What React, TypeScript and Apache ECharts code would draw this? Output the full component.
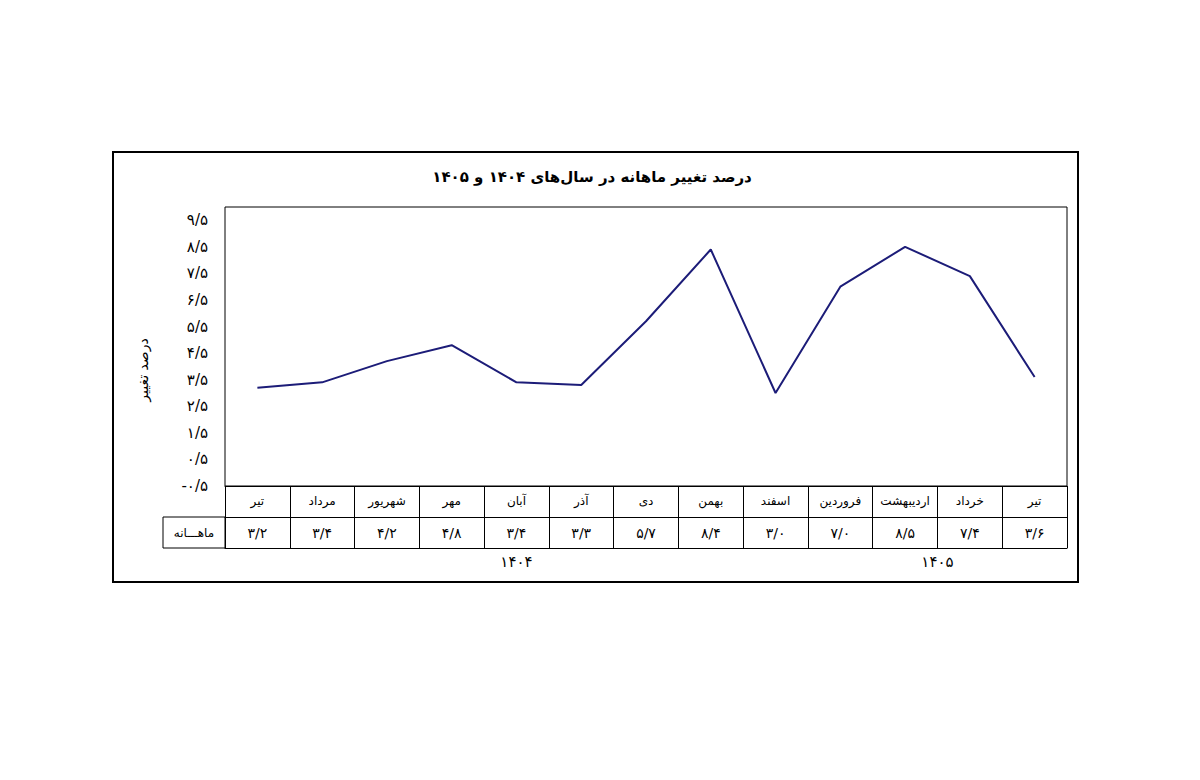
import React, { useEffect, useRef } from "react";
import * as echarts from "echarts";

const months = ["تیر", "مرداد", "شهریور", "مهر", "آبان", "آذر", "دی", "بهمن", "اسفند", "فروردین", "اردیبهشت", "خرداد", "تیر"];
const values = [3.2, 3.4, 4.2, 4.8, 3.4, 3.3, 5.7, 8.4, 3.0, 7.0, 8.5, 7.4, 3.6];
const yearLabels = ["۱۴۰۴", "۱۴۰۵"];
const yearSpans = [9, 4];
const titleText = "درصد تغییر ماهانه در سال‌های ۱۴۰۴ و ۱۴۰۵";
const yName = "درصد تغییر";
const rowHeader = "ماهـــانه";

const FA = "۰۱۲۳۴۵۶۷۸۹";
const toFa = (s: string) => s.replace(/[0-9]/g, (d) => FA[+d]).replace(".", "/");
const fmt = (v: number) => toFa(v.toFixed(1));

const FONT = "DejaVu Sans";

export default function App() {
  const ref = useRef<HTMLDivElement>(null);
  useEffect(() => {
    if (!ref.current) return;
    const chart = echarts.init(ref.current, null, { renderer: "svg" });
    const W = 1200, H = 780;
    const gL = 225, gR = 1067, gT = 207, gB = 486;
    const rowH = 31;
    const colW = (gR - gL) / months.length;

    const yearTexts: any[] = [];
    let start = 0;
    yearLabels.forEach((lab, i) => {
      const cx = gL + (start + yearSpans[i] / 2) * colW;
      start += yearSpans[i];
      yearTexts.push({
        type: "text",
        x: cx,
        y: gB + 2 * rowH + 14,
        style: { text: lab, fill: "#000", font: `15px '${FONT}'`, align: "center", verticalAlign: "middle" },
      });
    });

    const tableLeft = 163;

    chart.setOption({
      animation: false,
      backgroundColor: "#fff",
      grid: {
        left: gL,
        right: W - gR,
        top: gT,
        bottom: H - gB,
        show: true,
        borderColor: "#000",
        borderWidth: 1,
        backgroundColor: "transparent",
      },
      xAxis: [
        {
          type: "category",
          data: months,
          position: "bottom",
          boundaryGap: true,
          axisLine: { show: true, onZero: false, lineStyle: { color: "#000", width: 1 } },
          axisTick: { show: true, interval: 0, length: 2 * rowH, lineStyle: { color: "#000", width: 1 } },
          axisLabel: { interval: 0, color: "#000", fontFamily: FONT, fontSize: 12, margin: 9 },
          splitLine: { show: false },
        },
        {
          type: "category",
          data: values.map(fmt),
          position: "bottom",
          offset: rowH,
          boundaryGap: true,
          axisLine: { show: true, onZero: false, lineStyle: { color: "#000", width: 1 } },
          axisTick: { show: false },
          axisLabel: { interval: 0, color: "#000", fontFamily: FONT, fontSize: 14, margin: 9 },
          splitLine: { show: false },
        },
        {
          type: "category",
          data: values.map(fmt),
          position: "bottom",
          offset: 2 * rowH,
          boundaryGap: true,
          axisLine: { show: true, onZero: false, lineStyle: { color: "#000", width: 1 } },
          axisTick: { show: false },
          axisLabel: { show: false },
          splitLine: { show: false },
        },
      ],
      yAxis: {
        type: "value",
        min: -0.5,
        max: 10,
        interval: 0.5,
        axisLine: { show: false },
        axisTick: { show: false },
        splitLine: { show: false },
        axisLabel: {
          color: "#000",
          fontFamily: FONT,
          fontSize: 15,
          margin: 17,
          formatter: (v: number) => (Math.abs(Math.round(v * 2)) % 2 === 1 ? fmt(v) : ""),
        },
      },
      series: [
        {
          type: "line",
          data: values,
          xAxisIndex: 0,
          showSymbol: false,
          symbol: "none",
          lineStyle: { color: "#1c1c78", width: 2 },
        },
      ],
      graphic: [
        {
          type: "rect",
          shape: { x: 113, y: 152, width: 965, height: 430 },
          style: { fill: "none", stroke: "#000", lineWidth: 2 },
          silent: true,
        },
        {
          type: "text",
          x: 592,
          y: 177,
          style: { text: titleText, fill: "#000", font: `bold 15px '${FONT}'`, align: "center", verticalAlign: "middle" },
        },
        {
          type: "text",
          x: 143,
          y: 370,
          rotation: Math.PI / 2,
          style: { text: yName, fill: "#000", font: `14px '${FONT}'`, align: "center", verticalAlign: "middle" },
        },
        {
          type: "rect",
          shape: { x: tableLeft, y: gB + rowH, width: gL - tableLeft, height: rowH },
          style: { fill: "none", stroke: "#000", lineWidth: 1 },
          silent: true,
        },
        {
          type: "text",
          x: (tableLeft + gL) / 2,
          y: gB + rowH * 1.5,
          style: { text: rowHeader, fill: "#000", font: `12px '${FONT}'`, align: "center", verticalAlign: "middle" },
        },
        ...yearTexts,
      ],
    });
    return () => chart.dispose();
  }, []);
  return <div ref={ref} style={{ position: "absolute", left: 0, top: 0, width: 1200, height: 780 }} />;
}
